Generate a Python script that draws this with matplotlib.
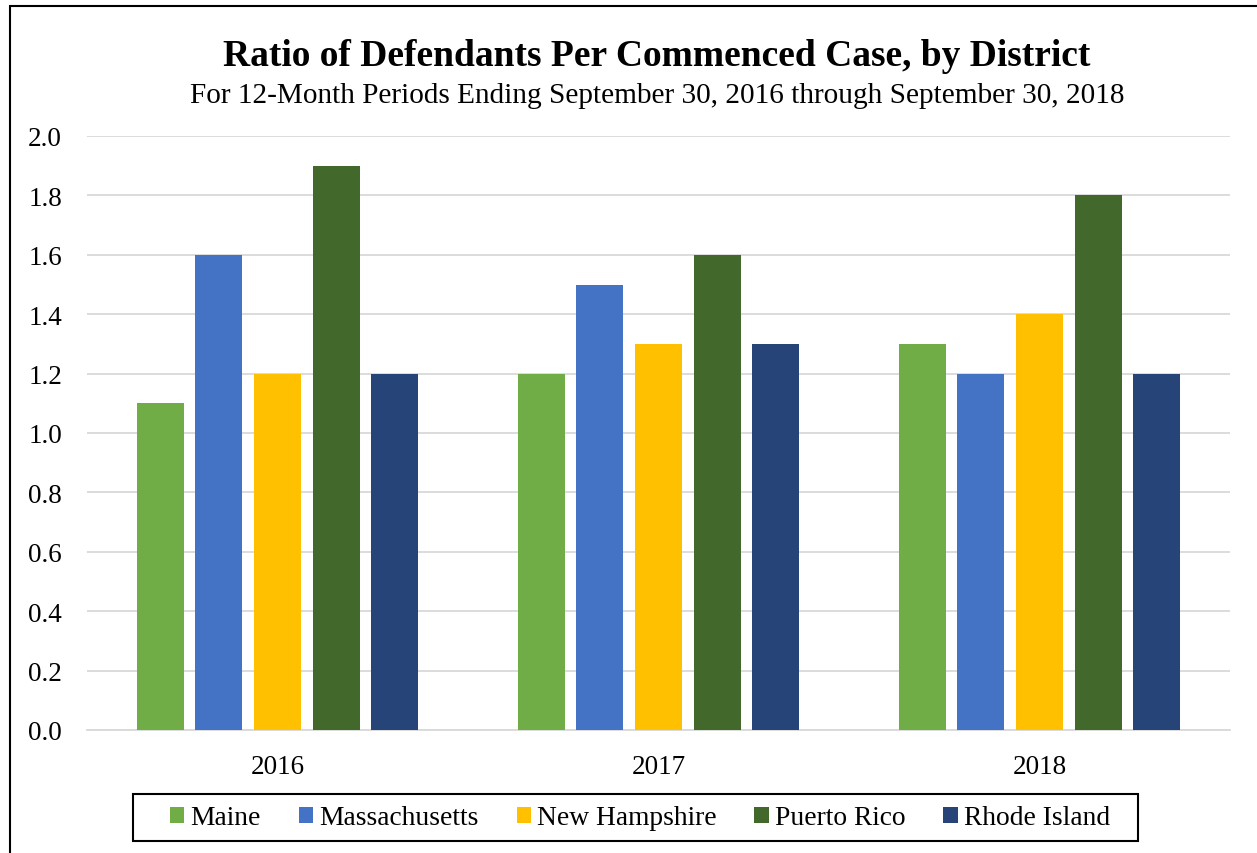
import matplotlib.pyplot as plt
from matplotlib.patches import Rectangle
import numpy as np

plt.rcParams['font.family'] = ['Liberation Serif', 'DejaVu Serif']

# data
years = ['2016', '2017', '2018']
districts = ['Maine', 'Massachusetts', 'New Hampshire', 'Puerto Rico', 'Rhode Island']
maine = [1.1, 1.2, 1.3]
massachusetts = [1.6, 1.5, 1.2]
new_hampshire = [1.2, 1.3, 1.4]
puerto_rico = [1.9, 1.6, 1.8]
rhode_island = [1.2, 1.3, 1.2]
series = [maine, massachusetts, new_hampshire, puerto_rico, rhode_island]
colors = ['#70AD47', '#4472C4', '#FFC000', '#43682B', '#264478']

fig = plt.figure(figsize=(12.57, 8.54), dpi=100)
ax = fig.add_axes([87/1257, 1 - 731/854, (1230-87)/1257, (731-137)/854])

x = np.arange(len(years))
step = 0.154
width = 0.123
for i, (vals, c) in enumerate(zip(series, colors)):
    ax.bar(x + (i - 2) * step, vals, width, color=c, label=districts[i], zorder=3)

ax.set_xlim(-0.5, 2.5)
ax.set_ylim(0, 2.0)
ax.set_yticks(np.arange(0, 2.01, 0.2))
ax.set_yticklabels([f'{v:.1f}' for v in np.arange(0, 2.01, 0.2)])
ax.set_xticks(x)
ax.set_xticklabels(years)
ax.tick_params(axis='both', length=0, labelsize=19.5)
ax.tick_params(axis='y', pad=18)
ax.tick_params(axis='x', pad=17)
ax.grid(axis='y', color='#D9D9D9', linewidth=1.3, zorder=0)
for s in ['top', 'right', 'left']:
    ax.spines[s].set_visible(False)
ax.spines['bottom'].set_color('#D9D9D9')
ax.spines['bottom'].set_linewidth(1.3)

fig.text(657/1257, 1 - 57/854, 'Ratio of Defendants Per Commenced Case, by District',
         ha='center', va='center', fontsize=27, fontweight='bold')
fig.text(657/1257, 1 - 96/854,
         'For 12-Month Periods Ending September 30, 2016 through September 30, 2018',
         ha='center', va='center', fontsize=21.1)

# legend without frame, box drawn separately (wider side padding)
leg = fig.legend(loc='center', bbox_to_anchor=(640/1257, 1 - 819/854), ncol=5,
                 fontsize=19.8, frameon=False,
                 handlelength=0.52, handleheight=0.52, handletextpad=0.22,
                 columnspacing=1.38, borderpad=0.3)
fig.patches.append(Rectangle((133/1257, 1 - 842/854), (1138-133)/1257, 47/854,
                             transform=fig.transFigure, fill=False,
                             edgecolor='black', linewidth=1.5))

# outer chart border (right and bottom run past the image)
fig.patches.append(Rectangle((10/1257, -0.1), 1.2, 1.1 - 7/854, transform=fig.transFigure,
                             fill=False, edgecolor='black', linewidth=1.5))

plt.savefig('out.png', dpi=100)
